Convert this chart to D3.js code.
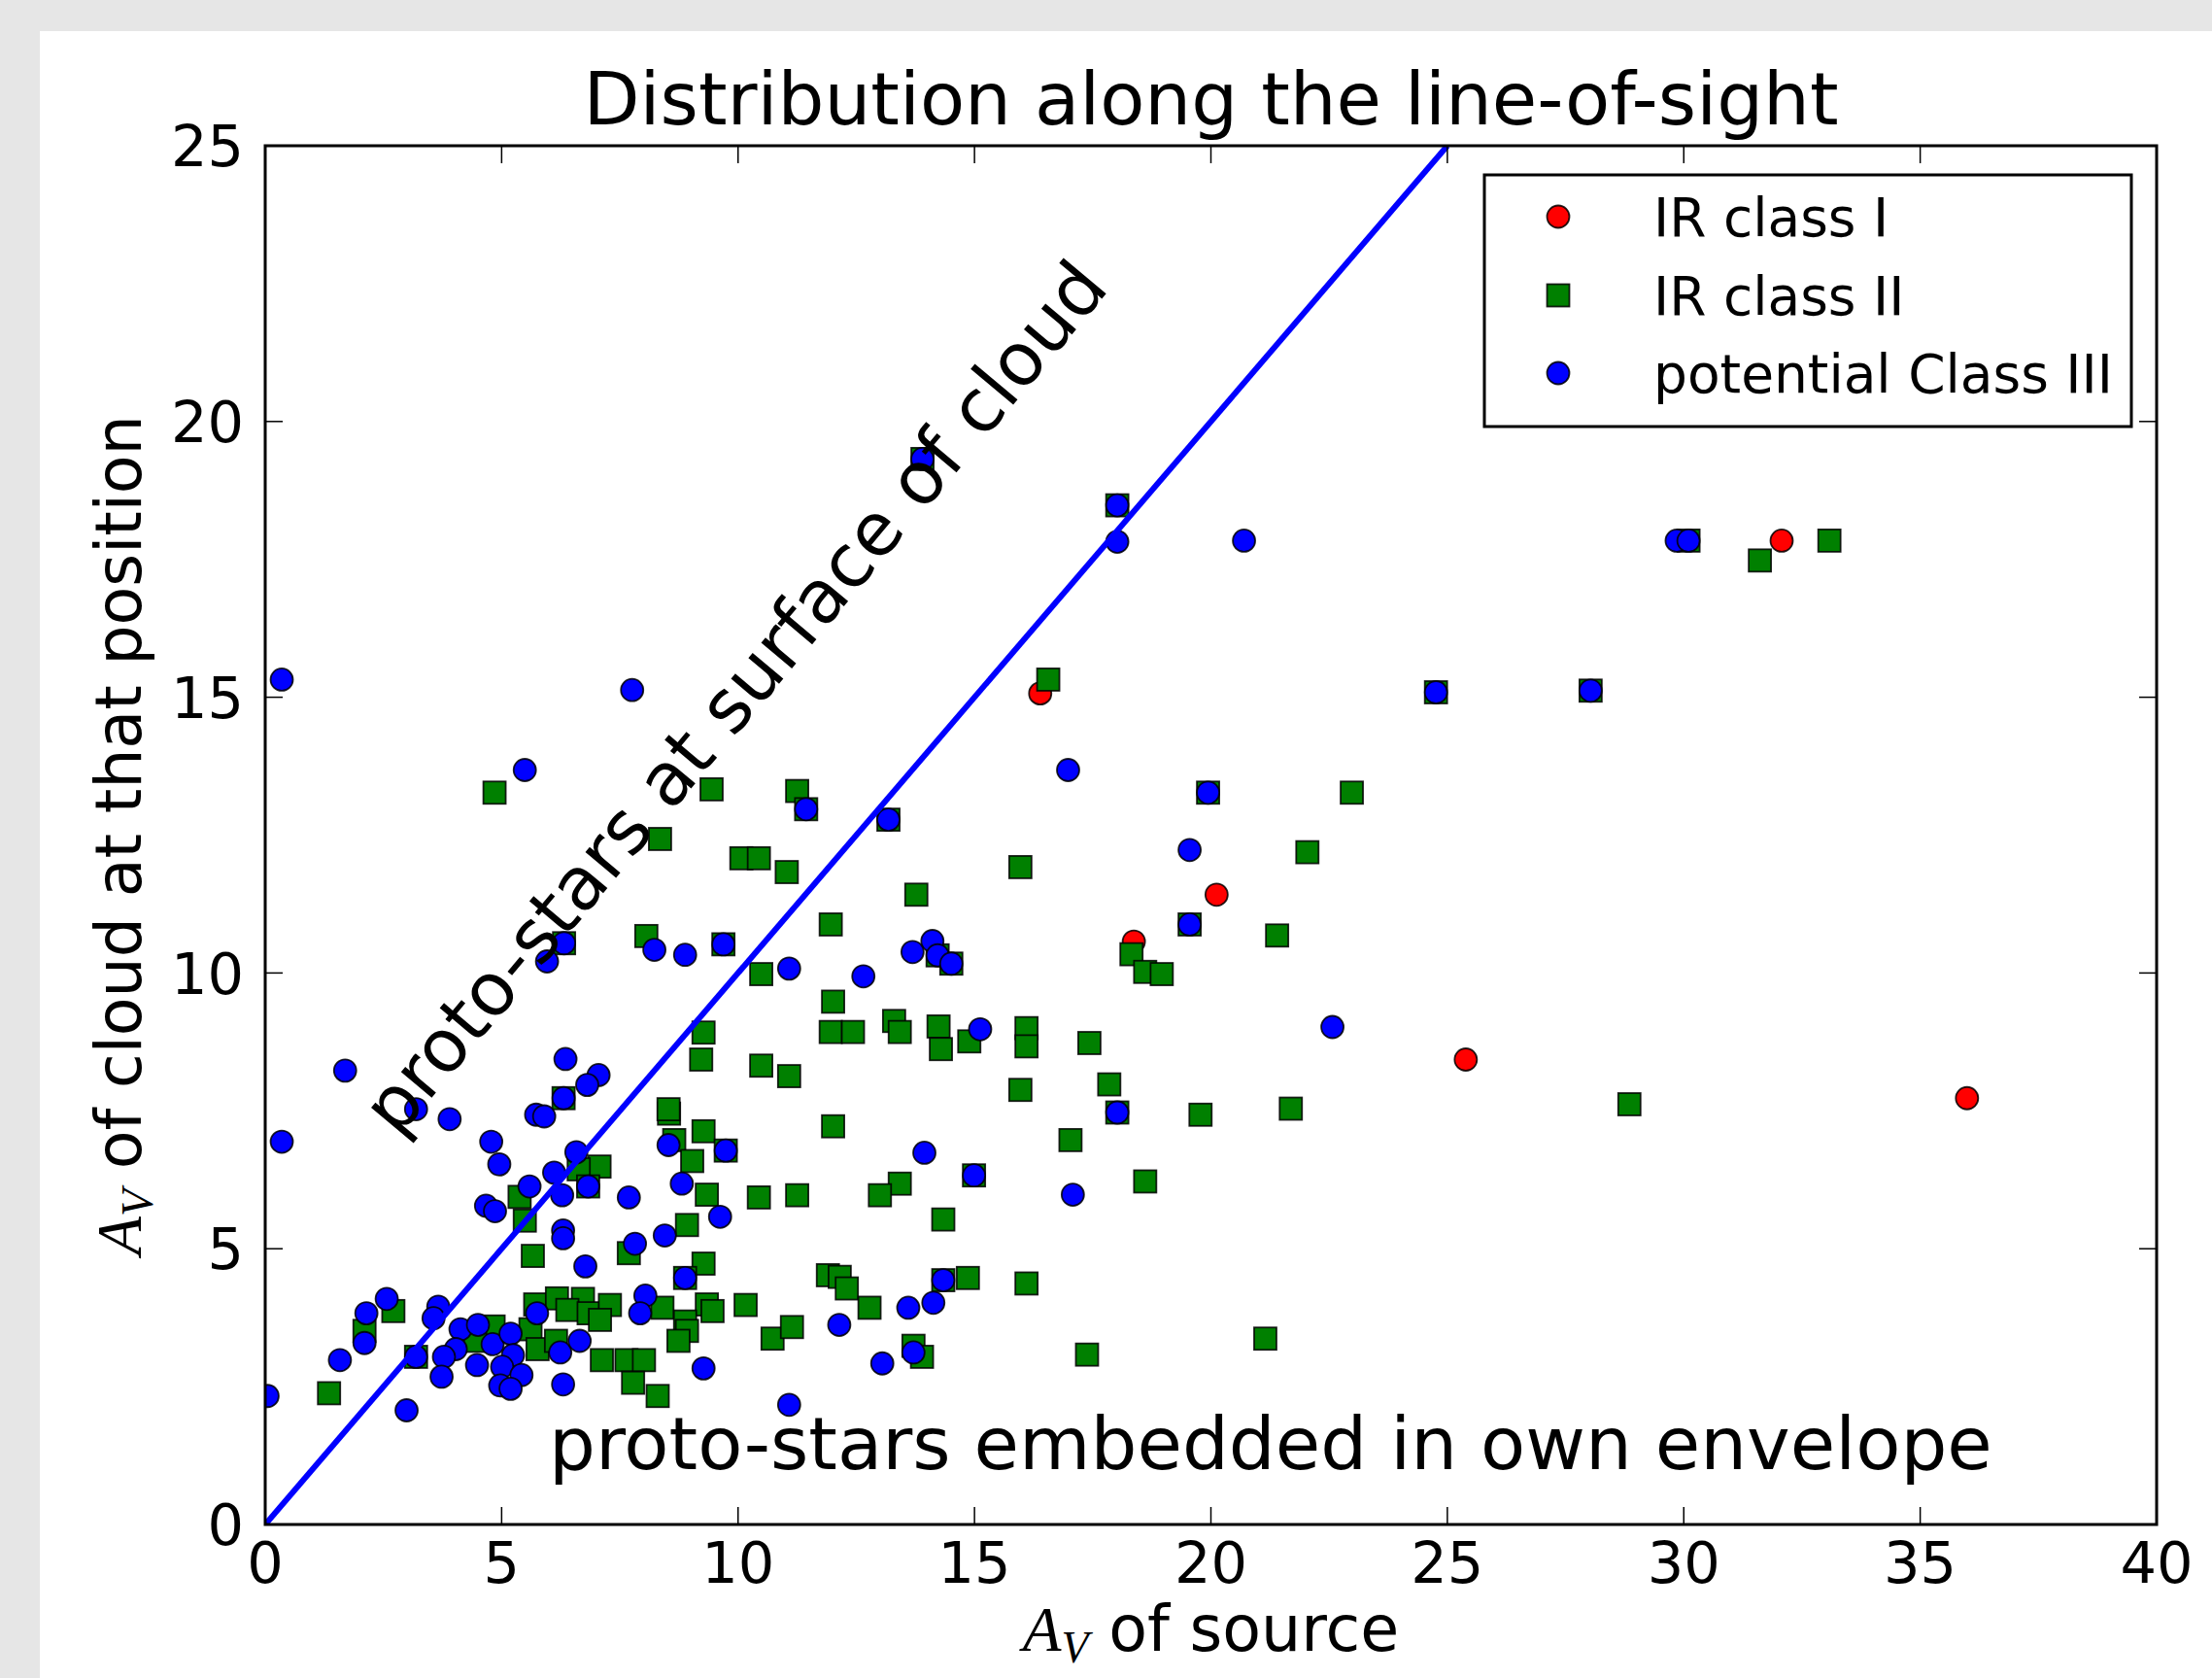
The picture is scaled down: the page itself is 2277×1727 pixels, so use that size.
<!DOCTYPE html>
<html lang="en">
<head>
  <meta charset="UTF-8">
  <title>Distribution along the line-of-sight</title>
  <script src="https://d3js.org/d3.v7.min.js"></script>
  <style>
    body { margin: 0; background: #e6e6e6; overflow: hidden; }
    svg { display: block; }
    text { font-family: "DejaVu Sans", sans-serif; fill: #000; }
  </style>
</head>
<body>
  <script>
    // A_V of source vs A_V of cloud
    const classI = [
      [16.39, 15.07], [20.12, 11.42], [18.37, 10.57], [25.39, 8.43], [35.99, 7.73], [32.07, 17.84]
    ];

    const classII = [
      [8.54, 7.45], [9.27, 7.13], [8.65, 6.97], [9.03, 6.59], [7.07, 6.49], [6.63, 6.44], [5.38, 5.94],
      [5.49, 5.51], [9.34, 5.98], [10.44, 5.93], [8.92, 5.43], [5.66, 4.87], [7.69, 4.92], [9.27, 4.73],
      [2.71, 3.87], [2.10, 3.51], [3.19, 3.04], [5.71, 3.99], [6.17, 4.10], [6.72, 4.09], [6.39, 3.89],
      [6.84, 3.83], [7.29, 3.98], [7.08, 3.71], [8.40, 3.93], [9.34, 3.99], [9.46, 3.87], [10.16, 3.98],
      [8.88, 3.68], [8.92, 3.51], [8.74, 3.33], [10.73, 3.37], [4.83, 3.59], [4.44, 3.33], [5.61, 3.54],
      [5.76, 3.18], [6.15, 3.33], [7.12, 2.98], [7.64, 2.98], [8.01, 2.98], [7.78, 2.57], [8.30, 2.33],
      [1.35, 2.38], [9.74, 6.78], [6.83, 6.13], [8.88, 4.47],
      [12.01, 7.22], [17.03, 6.97], [19.78, 7.43], [11.25, 5.97], [13.42, 6.18], [13.0, 5.97], [14.34, 5.53],
      [18.61, 6.22], [11.90, 4.52], [12.15, 4.49], [12.30, 4.28], [12.78, 3.93], [14.86, 4.47], [16.10, 4.37],
      [11.14, 3.58], [13.71, 3.24], [13.89, 3.04], [17.38, 3.08], [21.15, 3.37], [14.99, 6.33], [14.34, 4.43],
      [18.02, 7.47],
      [4.85, 13.27], [9.44, 13.33], [8.35, 12.43], [10.07, 12.08], [10.44, 12.08], [11.03, 11.83], [8.06, 10.67],
      [10.49, 9.98], [9.27, 8.92], [9.22, 8.43], [10.49, 8.32], [11.08, 8.13], [8.53, 7.53], [6.32, 10.54],
      [9.69, 10.52], [6.31, 7.73],
      [16.56, 15.32], [11.25, 13.30], [15.97, 11.92], [13.77, 11.42], [11.96, 10.88], [21.4, 10.68], [18.32, 10.34],
      [18.61, 10.02], [18.96, 9.98], [12.01, 9.48], [11.96, 8.93], [12.43, 8.93], [13.30, 9.13], [13.42, 8.93],
      [14.24, 9.03], [14.29, 8.62], [14.89, 8.76], [16.1, 9.0], [16.1, 8.67], [17.43, 8.73], [15.97, 7.88],
      [17.85, 7.98], [11.44, 12.97], [13.18, 12.78], [19.94, 13.27], [19.55, 10.88], [14.22, 10.32], [14.51, 10.17],
      [31.61, 17.48], [33.08, 17.84], [22.98, 13.27], [22.04, 12.19], [21.69, 7.54], [28.85, 7.62],
      [30.1, 17.84], [24.76, 15.09], [28.03, 15.12], [13.9, 19.32], [18.02, 18.48]
    ];

    const classIII = [
      [0.35, 6.94], [3.9, 7.35], [5.73, 7.43], [5.9, 7.4], [4.78, 6.94], [4.95, 6.53], [6.58, 6.75],
      [6.11, 6.38], [5.59, 6.13], [6.83, 6.13], [6.28, 5.97], [7.69, 5.93], [4.67, 5.78], [4.86, 5.68],
      [8.53, 6.88], [9.74, 6.78], [8.81, 6.18], [9.62, 5.58], [6.30, 5.33], [6.30, 5.19], [7.82, 5.09],
      [8.45, 5.24], [6.77, 4.68], [8.88, 4.47], [2.57, 4.09], [2.14, 3.83], [2.10, 3.29], [1.58, 2.98],
      [0.05, 2.33], [2.99, 2.07], [3.66, 3.95], [3.56, 3.74], [3.19, 3.04], [4.13, 3.54], [4.5, 3.62],
      [4.03, 3.18], [3.78, 3.04], [3.73, 2.68], [4.48, 2.89], [4.81, 3.27], [5.19, 3.46], [5.24, 3.07],
      [5.01, 2.86], [5.42, 2.71], [4.97, 2.52], [5.19, 2.46], [5.75, 3.83], [6.24, 3.12], [6.65, 3.33],
      [6.30, 2.54], [8.04, 4.15], [7.93, 3.83], [9.27, 2.83],
      [18.02, 7.47], [13.94, 6.74], [14.99, 6.33], [17.08, 5.98], [14.34, 4.43], [13.6, 3.93], [14.13, 4.02],
      [12.14, 3.62], [13.71, 3.12], [13.05, 2.92], [11.08, 2.17],
      [0.35, 15.32], [7.76, 15.13], [5.49, 13.68], [6.32, 10.54], [5.96, 10.21], [8.23, 10.42], [8.88, 10.33],
      [9.69, 10.52], [1.69, 8.23], [6.35, 8.44], [7.05, 8.15], [6.81, 7.97], [6.31, 7.73], [3.19, 7.53],
      [11.44, 12.97], [13.18, 12.78], [16.98, 13.68], [19.94, 13.27], [19.55, 12.23], [19.55, 10.88],
      [11.08, 10.08], [12.65, 9.94], [14.11, 10.58], [13.69, 10.38], [14.22, 10.32], [14.51, 10.17], [15.12, 8.98],
      [20.7, 17.84], [29.85, 17.84], [30.1, 17.84], [24.76, 15.09], [28.03, 15.12], [22.57, 9.02],
      [13.9, 19.32], [18.02, 18.48], [18.02, 17.82]
    ];

    const xTicks = [0, 5, 10, 15, 20, 25, 30, 35, 40];
    const yTicks = [0, 5, 10, 15, 20, 25];
    const legendLabels = ["IR class I", "IR class II", "potential Class III"];
    const diagonal = [[0, 0], [25, 25]];

    const width = 2277, height = 1727;
    const plot = { left: 273, right: 2220, top: 150, bottom: 1569 };

    const svg = d3.select("body").append("svg")
      .attr("width", width)
      .attr("height", height);

    svg.append("rect").attr("width", width).attr("height", height).attr("fill", "#e6e6e6");
    svg.append("rect").attr("x", 41).attr("y", 32)
      .attr("width", width - 41).attr("height", height - 32).attr("fill", "#fff");

    const x = d3.scaleLinear().domain([0, 40]).range([plot.left, plot.right]);
    const y = d3.scaleLinear().domain([0, 25]).range([plot.bottom, plot.top]);

    svg.append("clipPath").attr("id", "clip")
      .append("rect")
      .attr("x", plot.left).attr("y", plot.top)
      .attr("width", plot.right - plot.left).attr("height", plot.bottom - plot.top);

    const g = svg.append("g").attr("clip-path", "url(#clip)");

    const edge = { stroke: "#000", width: 1.8, opacity: 0.85 };

    g.selectAll(".c1").data(classI).enter().append("circle")
      .attr("class", "c1")
      .attr("cx", d => x(d[0])).attr("cy", d => y(d[1])).attr("r", 11.5)
      .attr("fill", "#ff0000")
      .attr("stroke", edge.stroke).attr("stroke-width", edge.width).attr("stroke-opacity", edge.opacity);

    g.selectAll(".c2").data(classII).enter().append("rect")
      .attr("class", "c2")
      .attr("x", d => x(d[0]) - 11.5).attr("y", d => y(d[1]) - 11.5)
      .attr("width", 23).attr("height", 23)
      .attr("fill", "#008000")
      .attr("stroke", edge.stroke).attr("stroke-width", edge.width).attr("stroke-opacity", edge.opacity);

    g.selectAll(".c3").data(classIII).enter().append("circle")
      .attr("class", "c3")
      .attr("cx", d => x(d[0])).attr("cy", d => y(d[1])).attr("r", 11.5)
      .attr("fill", "#0000ff")
      .attr("stroke", edge.stroke).attr("stroke-width", edge.width).attr("stroke-opacity", edge.opacity);

    // 1:1 line, drawn over the markers
    g.append("path")
      .datum(diagonal)
      .attr("d", d3.line().x(d => x(d[0])).y(d => y(d[1])))
      .attr("fill", "none")
      .attr("stroke", "#0000ff")
      .attr("stroke-width", 6);

    // annotations
    svg.append("text")
      .attr("transform", `translate(${x(2.8)},${y(7.0)}) rotate(-50)`)
      .attr("font-size", 75.5)
      .text("proto-stars at surface of cloud");

    svg.append("text")
      .attr("x", x(6)).attr("y", y(1))
      .attr("font-size", 75.5)
      .text("proto-stars embedded in own envelope");

    // ticks, inside on all four sides
    const tickLen = 18;
    const ticks = svg.append("g").attr("stroke", "#000").attr("stroke-width", 1.5);
    xTicks.forEach(t => {
      ticks.append("line").attr("x1", x(t)).attr("x2", x(t)).attr("y1", plot.bottom).attr("y2", plot.bottom - tickLen);
      ticks.append("line").attr("x1", x(t)).attr("x2", x(t)).attr("y1", plot.top).attr("y2", plot.top + tickLen);
    });
    yTicks.forEach(t => {
      ticks.append("line").attr("y1", y(t)).attr("y2", y(t)).attr("x1", plot.left).attr("x2", plot.left + tickLen);
      ticks.append("line").attr("y1", y(t)).attr("y2", y(t)).attr("x1", plot.right).attr("x2", plot.right - tickLen);
    });

    svg.append("g").selectAll("text").data(xTicks).enter().append("text")
      .attr("x", d => x(d)).attr("y", 1629)
      .attr("text-anchor", "middle")
      .attr("font-size", 59)
      .text(d => d);

    svg.append("g").selectAll("text").data(yTicks).enter().append("text")
      .attr("x", 251).attr("y", d => y(d))
      .attr("dy", "0.36em")
      .attr("text-anchor", "end")
      .attr("font-size", 59)
      .text(d => d);

    // frame
    svg.append("rect")
      .attr("x", plot.left).attr("y", plot.top)
      .attr("width", plot.right - plot.left).attr("height", plot.bottom - plot.top)
      .attr("fill", "none").attr("stroke", "#000").attr("stroke-width", 3);

    // title and axis labels
    svg.append("text")
      .attr("x", (plot.left + plot.right) / 2).attr("y", 128)
      .attr("text-anchor", "middle")
      .attr("font-size", 75.5)
      .text("Distribution along the line-of-sight");

    function avLabel(sel, rest) {
      sel.append("tspan")
        .attr("font-family", "'Liberation Serif', serif").attr("font-style", "italic")
        .text("A");
      sel.append("tspan")
        .attr("font-family", "'Liberation Serif', serif").attr("font-style", "italic")
        .attr("font-size", 46).attr("dy", 12)
        .text("V");
      sel.append("tspan").attr("dy", -12).text(rest);
    }

    svg.append("text")
      .attr("x", (plot.left + plot.right) / 2).attr("y", 1699)
      .attr("text-anchor", "middle")
      .attr("font-size", 65)
      .call(avLabel, " of source");

    svg.append("text")
      .attr("transform", `translate(145,${(plot.top + plot.bottom) / 2}) rotate(-90)`)
      .attr("text-anchor", "middle")
      .attr("font-size", 65)
      .call(avLabel, " of cloud at that position");

    // legend
    const legend = svg.append("g");
    legend.append("rect")
      .attr("x", 1528).attr("y", 180).attr("width", 666).attr("height", 259)
      .attr("fill", "#fff").attr("stroke", "#000").attr("stroke-width", 3);

    const rowY = [223, 304, 384];
    legendLabels.forEach((label, i) => {
      const cy = rowY[i];
      if (i === 1) {
        legend.append("rect")
          .attr("x", 1604 - 11.5).attr("y", cy - 11.5).attr("width", 23).attr("height", 23)
          .attr("fill", "#008000")
          .attr("stroke", edge.stroke).attr("stroke-width", edge.width).attr("stroke-opacity", edge.opacity);
      } else {
        legend.append("circle")
          .attr("cx", 1604).attr("cy", cy).attr("r", 11.5)
          .attr("fill", i === 0 ? "#ff0000" : "#0000ff")
          .attr("stroke", edge.stroke).attr("stroke-width", edge.width).attr("stroke-opacity", edge.opacity);
      }
      legend.append("text")
        .attr("x", 1702).attr("y", cy).attr("dy", "0.36em")
        .attr("font-size", 55)
        .text(label);
    });
  </script>
</body>
</html>
